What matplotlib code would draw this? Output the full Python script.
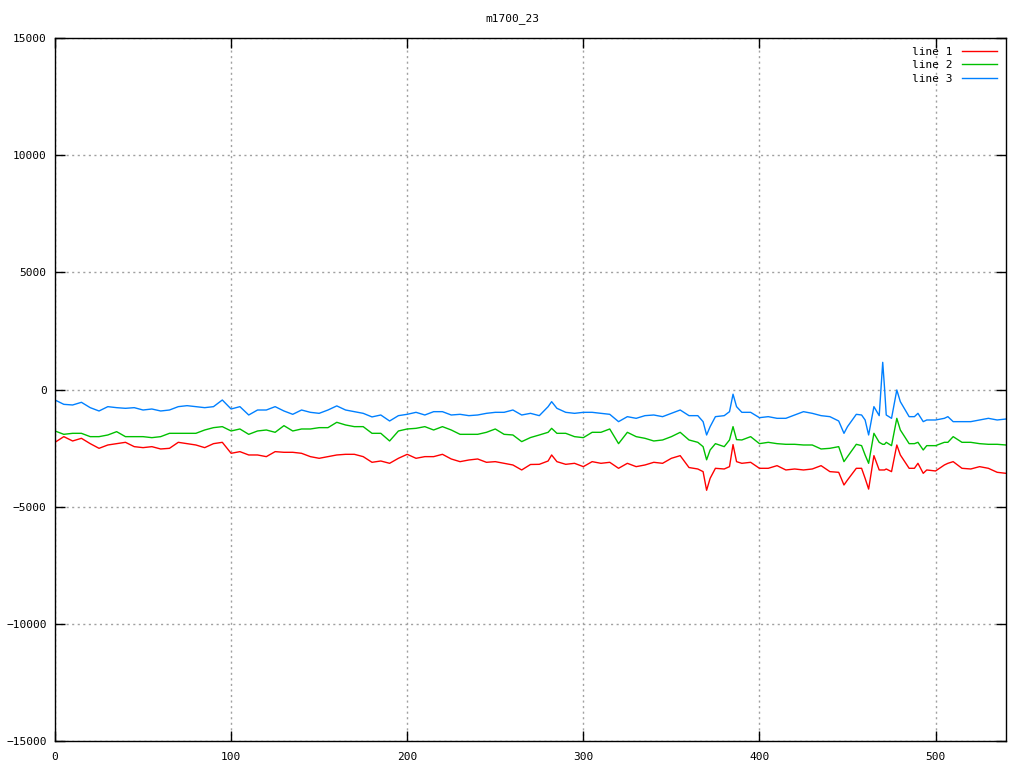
import matplotlib
matplotlib.use('Agg')
import matplotlib.pyplot as plt

# Sample positions (shared by the three lines)
x = [0, 5, 10, 15, 20, 25, 30, 35, 40, 45, 50, 55, 60, 65, 70, 75, 80, 85, 90,
     95, 100, 105, 110, 115, 120, 125, 130, 135, 140, 145, 150, 155, 160, 165, 170, 175, 180,
     185, 190, 195, 200, 205, 210, 215, 220, 225, 230, 235, 240, 245, 250, 255, 260, 265, 270,
     275, 280, 282, 285, 290, 295, 300, 305, 310, 315, 320, 325, 330, 335, 340, 345, 350, 355, 360,
     365, 368, 370, 372, 375, 380, 383, 385, 387, 390,
     395, 400, 405, 410, 415, 420, 425, 430, 435, 440, 445, 448, 450, 455,
     458, 460, 462, 465, 468, 470, 471, 472, 475, 478, 480, 485, 488, 490, 493, 495,
     500, 505, 507, 510, 515, 520, 525, 530, 535, 540]

# line 1 (red)
line1 = [-2254, -2012, -2197, -2083, -2311, -2510, -2368, -2311, -2254, -2439, -2481, -2439, -2538, -2510, -2254, -2311, -2368, -2481, -2311,
         -2254, -2723, -2652, -2794, -2794, -2865, -2652, -2680, -2680, -2723, -2865, -2936, -2865, -2794, -2766, -2766, -2865, -3107,
         -3051, -3150, -2936, -2766, -2936, -2865, -2865, -2766, -2965, -3079, -3008, -2965, -3107, -3079, -3150, -3221, -3434, -3200,
         -3193, -3051, -2794, -3079, -3193, -3150, -3292, -3079, -3150, -3107, -3363, -3150, -3292, -3221, -3107, -3150, -2936, -2823, -3330,
         -3392, -3505, -4300, -3790, -3363, -3392, -3292, -2350, -3079, -3150,
         -3107, -3363, -3363, -3250, -3434, -3392, -3434, -3392, -3250, -3505, -3534, -4075, -3861, -3363,
         -3363, -3790, -4250, -2823, -3434, -3434, -3434, -3392, -3505, -2368, -2794, -3363, -3363, -3150, -3577, -3434,
         -3477, -3221, -3150, -3079, -3363, -3392, -3292, -3363, -3534, -3577]

# line 2 (green)
line2 = [-1770, -1913, -1870, -1870, -2012, -2012, -1941, -1799, -2012, -2012, -2012, -2055, -2012, -1870, -1870, -1870, -1870, -1728, -1628,
         -1585, -1770, -1685, -1913, -1770, -1728, -1827, -1543, -1770, -1685, -1685, -1628, -1628, -1400, -1514, -1585, -1585, -1870,
         -1870, -2197, -1770, -1685, -1657, -1585, -1728, -1585, -1728, -1913, -1913, -1913, -1827, -1685, -1913, -1941, -2225, -2050,
         -1941, -1827, -1657, -1870, -1870, -2012, -2055, -1827, -1827, -1685, -2311, -1827, -2012, -2083, -2197, -2154, -2012, -1827, -2154,
         -2254, -2439, -3000, -2581, -2311, -2439, -2154, -1585, -2140, -2154,
         -2012, -2311, -2254, -2311, -2339, -2339, -2368, -2368, -2538, -2510, -2439, -3079, -2865, -2339,
         -2396, -2794, -3150, -1870, -2254, -2339, -2339, -2254, -2396, -1230, -1728, -2311, -2311, -2254, -2581, -2396,
         -2396, -2254, -2254, -2012, -2254, -2254, -2311, -2339, -2339, -2368]

# line 3 (blue)
line3 = [-448, -633, -661, -547, -775, -917, -732, -775, -803, -775, -875, -832, -917, -875, -732, -690, -732, -775, -732,
         -448, -832, -732, -1088, -875, -875, -732, -917, -1059, -875, -974, -1017, -875, -700, -875, -946, -1017, -1170,
         -1088, -1344, -1116, -1059, -974, -1088, -946, -946, -1088, -1059, -1116, -1088, -1017, -974, -974, -875, -1088, -1017,
         -1116, -732, -519, -803, -974, -1017, -974, -974, -1017, -1059, -1372, -1159, -1230, -1116, -1088, -1159, -1017, -875, -1116,
         -1116, -1372, -1941, -1585, -1159, -1116, -946, -200, -732, -974,
         -974, -1202, -1159, -1230, -1230, -1088, -946, -1017, -1116, -1159, -1344, -1870, -1585, -1059,
         -1088, -1301, -1941, -732, -1116, 1160, 100, -1088, -1230, -20, -519, -1159, -1159, -1017, -1372, -1301,
         -1301, -1230, -1159, -1372, -1372, -1372, -1301, -1230, -1301, -1259]

labels = ['line 1', 'line 2', 'line 3']
colors = ['#ff0000', '#00c000', '#0080ff']

plt.rcParams['font.family'] = 'DejaVu Sans Mono'

fig = plt.figure(figsize=(10.24, 7.68), dpi=100)
ax = fig.add_axes([55 / 1024, 27 / 768, 951 / 1024, 703 / 768])

for series, label, color in zip([line1, line2, line3], labels, colors):
    ax.plot(x, series, color=color, linewidth=1.0, label=label)

ax.set_xlim(0, 540)
ax.set_ylim(-15000, 15000)
ax.set_xticks([0, 100, 200, 300, 400, 500])
ax.set_yticks([-15000, -10000, -5000, 0, 5000, 10000, 15000])

# gnuplot-like frame, ticks and grid
ax.grid(True, color='#a0a0a0', linestyle=(0, (1.5, 2.5)), linewidth=1.0)
ax.tick_params(direction='in', length=7, width=1, top=True, right=True, labelsize=8)
ax.tick_params(axis='y', pad=6)
ax.tick_params(axis='x', pad=8)
for spine in ax.spines.values():
    spine.set_linewidth(1.0)

fig.text(0.5, 1 - 19 / 768, 'm1700_23', ha='center', va='center', fontsize=8)

leg = ax.legend(loc='upper right', frameon=False, markerfirst=False, fontsize=8,
                handlelength=3.2, labelspacing=0.3, borderaxespad=0.4, handletextpad=0.8)

fig.savefig('out.png', dpi=100)
